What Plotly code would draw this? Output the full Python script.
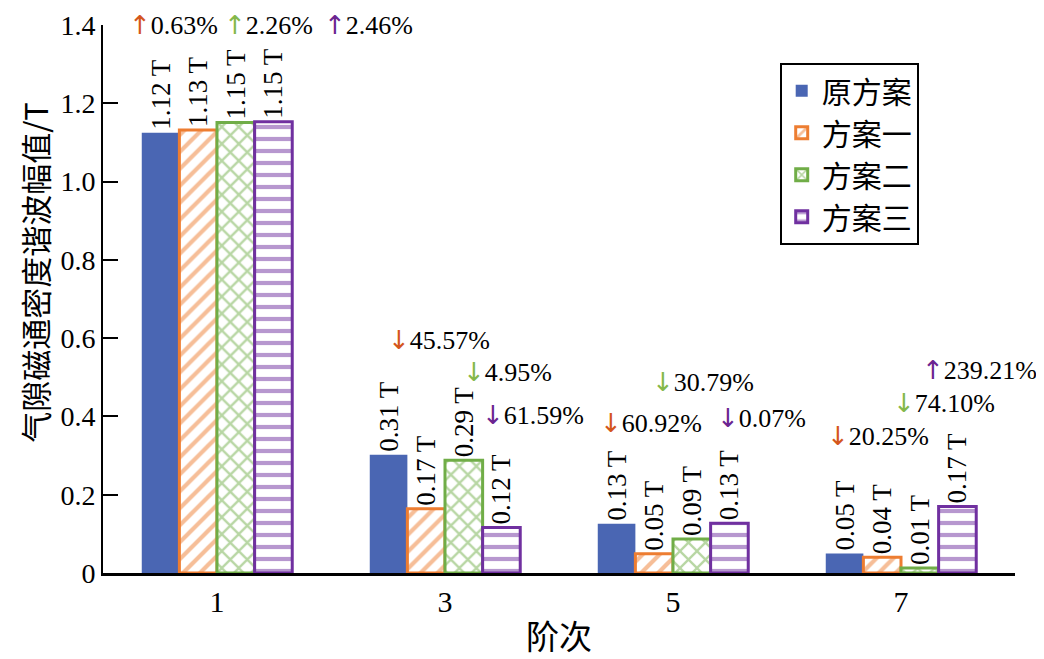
import plotly.graph_objects as go

orders = ["1", "3", "5", "7"]
series_names = ["原方案", "方案一", "方案二", "方案三"]
orig_vals = [1.125, 0.302, 0.126, 0.050]
s1_vals = [1.132, 0.164, 0.049, 0.040]
s2_vals = [1.151, 0.288, 0.087, 0.013]
s3_vals = [1.153, 0.116, 0.127, 0.170]
orig_text = ["1.12 T", "0.31 T", "0.13 T", "0.05 T"]
s1_text = ["1.13 T", "0.17 T", "0.05 T", "0.04 T"]
s2_text = ["1.15 T", "0.29 T", "0.09 T", "0.01 T"]
s3_text = ["1.15 T", "0.12 T", "0.13 T", "0.17 T"]

# percentage changes relative to the original scheme
change_series = [1, 2, 3, 1, 2, 3, 1, 2, 3, 1, 2, 3]
change_dir = ["up", "up", "up", "down", "down", "down", "down", "down", "down", "down", "down", "up"]
change_text = ["0.63%", "2.26%", "2.46%", "45.57%", "4.95%", "61.59%",
               "60.92%", "30.79%", "0.07%", "20.25%", "74.10%", "239.21%"]
# annotation placement (x in category units, y in data units)
change_x = [-0.395, 0.02, 0.46, 0.742, 1.07, 1.155, 1.672, 1.90, 2.185, 2.667, 2.957, 3.084]
change_y = [1.40, 1.40, 1.40, 0.595, 0.514, 0.404, 0.383, 0.488, 0.396, 0.350, 0.434, 0.519]

colors = ["#4a66b3", "#ed7d31", "#70ad47", "#7030a0"]
arrow_colors = ["#4a66b3", "#d4561c", "#84b84a", "#6b2591"]
patterns = ["", "/", "x", "-"]

serif = "Liberation Serif"
cjk = "Noto Sans CJK SC"

fig = go.Figure()
all_vals = [orig_vals, s1_vals, s2_vals, s3_vals]
all_text = [orig_text, s1_text, s2_text, s3_text]
for i, name in enumerate(series_names):
    if i == 0:
        marker = dict(color=colors[i], line=dict(color=colors[i], width=0))
    else:
        marker = dict(color="white",
                      line=dict(color=colors[i], width=3),
                      pattern=dict(shape=patterns[i], fgcolor=colors[i], bgcolor="white",
                                   size=12, solidity=0.35, fillmode="overlay"))
    fig.add_trace(go.Bar(
        x=orders, y=all_vals[i], name=name, marker=marker,
        text=all_text[i], textposition="outside", textangle=-90,
        constraintext="none",
        textfont=dict(family=serif, size=27, color="black"),
        cliponaxis=False,
    ))

for k in range(len(change_text)):
    arrow = "↑" if change_dir[k] == "up" else "↓"
    c = arrow_colors[change_series[k]]
    fig.add_annotation(
        x=change_x[k], y=change_y[k], xref="x", yref="y",
        xanchor="left", yanchor="middle", showarrow=False,
        text=(f"<span style='color:{c};font-family:DejaVu Sans;font-size:26px'>{arrow}</span>"
              f"{change_text[k]}"),
        font=dict(family=serif, size=26, color="black"),
    )

# y-axis title placed as a rotated annotation
fig.add_annotation(
    text="气隙磁通密度谐波幅值/T", xref="paper", yref="paper",
    x=-0.076, y=0.549, xanchor="center", yanchor="middle",
    textangle=-90, showarrow=False,
    font=dict(family=cjk, size=31, color="black"),
)

fig.update_layout(
    width=1036, height=651,
    margin=dict(l=95, r=29, t=17, b=86, autoexpand=False),
    plot_bgcolor="white", paper_bgcolor="white",
    barmode="group", bargap=0.34, bargroupgap=0,
    font=dict(family=serif, size=28, color="black"),
    legend=dict(x=0.742, y=0.931, xanchor="left", yanchor="top",
                bordercolor="black", borderwidth=2, bgcolor="white",
                font=dict(family=cjk, size=30, color="black"),
                tracegroupgap=0, itemwidth=30),
    showlegend=True,
)
fig.update_xaxes(
    type="category", range=[-0.5, 3.5], automargin=False,
    showline=True, linecolor="black", linewidth=3,
    ticks="", showgrid=False,
    tickfont=dict(family=serif, size=30),
    title=dict(text="阶次", font=dict(family=cjk, size=33), standoff=12),
)
fig.update_yaxes(
    range=[0, 1.4001], tickvals=[0, 0.2, 0.4, 0.6, 0.8, 1.0, 1.2, 1.4],
    ticktext=["0", "0.2", "0.4", "0.6", "0.8", "1.0", "1.2", "1.4"],
    ticklabeloverflow="allow", automargin=False,
    showline=True, linecolor="black", linewidth=2,
    ticks="inside", ticklen=15, tickwidth=2, tickcolor="black",
    showgrid=False, zeroline=False,
    tickfont=dict(family=serif, size=28),
)

fig.write_html("out.html")
